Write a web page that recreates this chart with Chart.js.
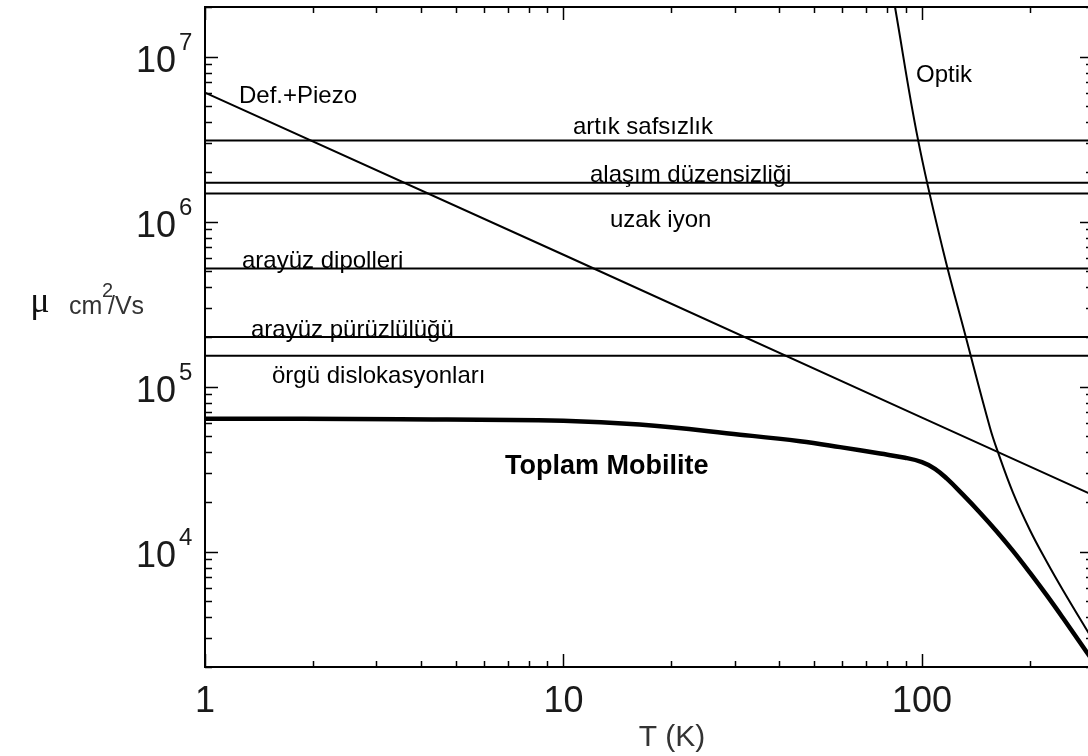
<!DOCTYPE html>
<html>
<head>
<meta charset="utf-8">
<script src="https://cdn.jsdelivr.net/npm/chart.js@4"></script>
<style>
  html, body { margin: 0; padding: 0; background: #fff; overflow: hidden; }
  #wrap { width: 1096px; height: 756px; }
</style>
</head>
<body>
<div id="wrap"><canvas id="c" width="1096" height="756"></canvas></div>
<script>
// Mobility contributions vs temperature (log-log)
const horizontalNames = ['artık safsızlık', 'alaşım düzensizliği', 'uzak iyon',
                         'arayüz dipolleri', 'arayüz pürüzlülüğü', 'örgü dislokasyonları'];
const horizontalValues = [3.1e6, 1.72e6, 1.48e6, 5.2e5, 2.0e5, 1.54e5];

const defPiezoT  = [1, 10, 100, 300];
const defPiezoMu = [6.05e6, 6.3e5, 6.5e4, 2.2e4];

const optikT  = [84.1, 97.5, 114.4, 132.7, 154.8, 161.9, 179.4, 200, 223.3, 247.4, 288.6, 300];
const optikMu = [2.0e7, 3.14e6, 6.76e5, 1.98e5, 5.64e4, 4.17e4, 2.28e4, 1.354e4, 8.63e3, 5.84e3, 3.34e3, 2.91e3];

const totalT  = [1, 3.5, 10, 16.3, 31.1, 45.7, 59.1, 76.4, 89.7, 100, 108.7, 117.4, 130.1, 145.2, 161.9, 179.4, 200, 223.3, 247.4, 288.6, 300];
const totalMu = [6.4e4, 6.35e4, 6.22e4, 5.89e4, 5.12e4, 4.67e4, 4.3e4, 3.93e4, 3.71e4, 3.49e4, 3.18e4, 2.77e4, 2.216e4, 1.723e4, 1.322e4, 1.011e4, 7.46e3, 5.41e3, 3.96e3, 2.45e3, 2.17e3];

const tRange  = [1, 300];
const muRange = [2e3, 2e7];

const xTickMajor  = [1, 10, 100];
const xTickLabels = ['1', '10', '100'];
const xTickMinor  = [2, 3, 4, 5, 6, 7, 8, 9, 20, 30, 40, 50, 60, 70, 80, 90, 200, 300];
const yTickMajor  = [1e4, 1e5, 1e6, 1e7];
const yTickExponents = ['4', '5', '6', '7'];
const yTickMinor  = [];
[1e3, 1e4, 1e5, 1e6, 1e7].forEach(d => [2, 3, 4, 5, 6, 7, 8, 9].forEach(m => {
  const v = d * m;
  if (v >= muRange[0] && v <= muRange[1]) yTickMinor.push(v);
}));

// text placed on the plot next to each curve
const curveLabels = [
  { text: 'Def.+Piezo',            x: 239, y: 103 },
  { text: 'Optik',                 x: 916, y: 82 },
  { text: 'artık safsızlık',       x: 573, y: 134 },
  { text: 'alaşım düzensizliği',   x: 590, y: 182 },
  { text: 'uzak iyon',             x: 610, y: 227 },
  { text: 'arayüz dipolleri',      x: 242, y: 268 },
  { text: 'arayüz pürüzlülüğü',    x: 251, y: 337 },
  { text: 'örgü dislokasyonları',  x: 272, y: 383 },
  { text: 'Toplam Mobilite',       x: 505, y: 474, bold: true }
];

const pts = (xs, ys) => xs.map((t, i) => ({ x: t, y: ys[i] }));
const thin = { borderColor: '#000', borderWidth: 2, pointRadius: 0, showLine: true, fill: false, clip: 1, tension: 0 };

const datasets = [];
horizontalValues.forEach((v, i) => {
  datasets.push(Object.assign({ label: horizontalNames[i], data: pts(tRange, [v, v]) }, thin));
});
datasets.push(Object.assign({ label: 'Def.+Piezo', data: pts(defPiezoT, defPiezoMu) }, thin));
datasets.push(Object.assign({}, thin, { label: 'Optik', data: pts(optikT, optikMu), tension: 0.4 }));
datasets.push(Object.assign({}, thin, { label: 'Toplam Mobilite', data: pts(totalT, totalMu),
  borderWidth: 4.5, tension: 0.4 }));

const SANS = '"Liberation Sans", Arial, sans-serif';

const decorations = {
  id: 'decorations',
  afterDatasetsDraw(chart) {
    const { ctx, chartArea: a, scales: { x, y } } = chart;
    ctx.save();
    ctx.strokeStyle = '#000';
    ctx.lineWidth = 1.5;
    const seg = (x1, y1, x2, y2) => { ctx.beginPath(); ctx.moveTo(x1, y1); ctx.lineTo(x2, y2); ctx.stroke(); };

    // inward ticks on all four sides
    const xt = (v, len) => {
      const p = Math.round(x.getPixelForValue(v)) + 0.5;
      seg(p, a.bottom, p, a.bottom - len);
      seg(p, a.top, p, a.top + len);
    };
    const yt = (v, len) => {
      const p = Math.round(y.getPixelForValue(v)) + 0.5;
      seg(a.left, p, a.left + len, p);
      seg(a.right, p, a.right - len, p);
    };
    xTickMajor.forEach(v => xt(v, 13));
    xTickMinor.forEach(v => xt(v, 6));
    yTickMajor.forEach(v => yt(v, 13));
    yTickMinor.forEach(v => yt(v, 7));

    // frame
    ctx.lineWidth = 2;
    ctx.strokeRect(a.left, a.top, a.right - a.left, a.bottom - a.top);

    // tick labels
    ctx.fillStyle = '#1a1a1a';
    ctx.textBaseline = 'alphabetic';
    ctx.font = '36px ' + SANS;
    ctx.textAlign = 'center';
    xTickMajor.forEach((v, i) => ctx.fillText(xTickLabels[i], x.getPixelForValue(v), a.bottom + 45));
    yTickMajor.forEach((v, i) => {
      const p = y.getPixelForValue(v);
      ctx.font = '36px ' + SANS;
      ctx.textAlign = 'right';
      ctx.fillText('10', a.left - 29, p + 15);
      ctx.font = '24px ' + SANS;
      ctx.textAlign = 'left';
      ctx.fillText(yTickExponents[i], a.left - 26, p - 7);
    });

    // axis titles
    ctx.fillStyle = '#333';
    ctx.textAlign = 'center';
    ctx.font = '30px ' + SANS;
    ctx.fillText('T (K)', 672, 746);
    ctx.fillStyle = '#111';
    ctx.font = '36px "Liberation Serif", serif';
    ctx.fillText('μ', 40, 312);
    ctx.fillStyle = '#333';
    ctx.textAlign = 'left';
    ctx.font = '25px ' + SANS;
    ctx.fillText('cm', 69, 314);
    ctx.fillText('/Vs', 108, 314);
    ctx.font = '20px ' + SANS;
    ctx.fillText('2', 102, 297);

    // curve labels
    ctx.fillStyle = '#000';
    curveLabels.forEach(l => {
      ctx.font = (l.bold ? 'bold 27px ' : '24px ') + SANS;
      ctx.fillText(l.text, l.x, l.y);
    });
    ctx.restore();
  }
};

new Chart(document.getElementById('c'), {
  type: 'scatter',
  data: { datasets },
  options: {
    responsive: false,
    animation: false,
    devicePixelRatio: 1,
    layout: { padding: { top: 7, right: 3, left: 0, bottom: 0 } },
    plugins: { legend: { display: false }, tooltip: { enabled: false } },
    scales: {
      x: {
        type: 'logarithmic', min: tRange[0], max: tRange[1], bounds: 'data',
        ticks: { display: false }, grid: { display: false }, border: { display: false },
        afterFit: s => { s.height = 89; }
      },
      y: {
        type: 'logarithmic', min: muRange[0], max: muRange[1], bounds: 'data',
        ticks: { display: false }, grid: { display: false }, border: { display: false },
        afterFit: s => { s.width = 205; }
      }
    }
  },
  plugins: [decorations]
});
</script>
</body>
</html>
